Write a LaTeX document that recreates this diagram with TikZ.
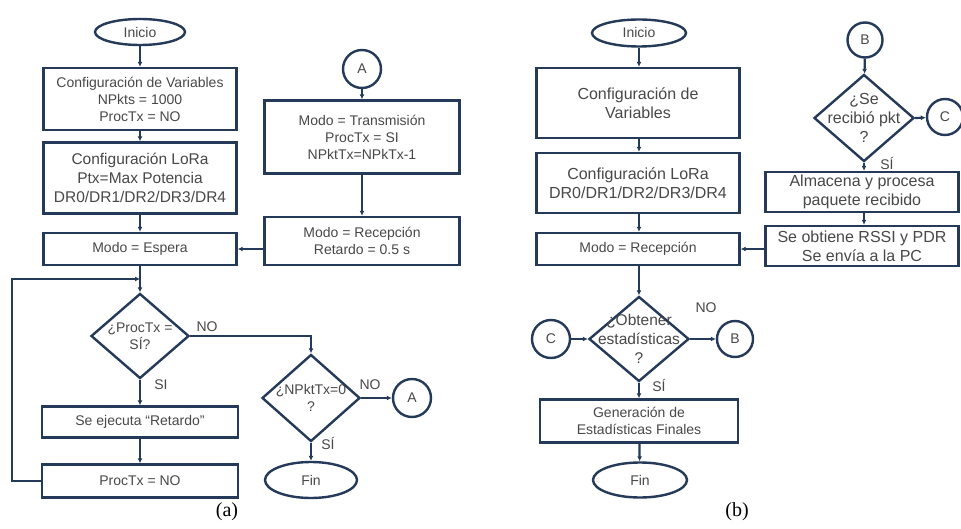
\documentclass[tikz,border=0pt]{standalone}
\usepackage{fontspec}
\setmainfont{Liberation Sans}
\newfontfamily\capfont{Liberation Serif}
\usetikzlibrary{shapes.geometric,arrows.meta}
\definecolor{lc}{RGB}{36,58,88}
\definecolor{tc}{RGB}{72,72,72}
\begin{document}
\begin{tikzpicture}[x=1pt,y=-1pt,
  fa/.style={font=\fontsize{14}{17}\selectfont},
  fl/.style={font=\fontsize{15.5}{19}\selectfont},
  fb/.style={font=\fontsize{16}{19}\selectfont},
  shp/.style={draw=lc, line width=2.4pt, inner sep=0pt, align=center, text=tc},
  boxx/.style={shp, rectangle},
  term/.style={shp, ellipse},
  conn/.style={shp, circle},
  deci/.style={shp, diamond},
  dtxt/.style={align=center, text=tc, inner sep=0pt},
  lbl/.style={text=tc, inner sep=0pt},
  arr/.style={draw=lc, line width=2.2pt, -{Latex[length=5pt,width=5pt]}},
  capl/.style={font=\capfont\fontsize{20}{22}\selectfont, text=black, inner sep=0pt}
]
\useasboundingbox (0,0) rectangle (961,529);
\fill[white] (0,0) rectangle (961,529);

% ---------------- (a) ----------------
\node[term, fa, minimum width=90pt, minimum height=26pt] (iniA) at (140,32) {Inicio};
\node[boxx, fa, minimum width=193pt, minimum height=62pt] (varA) at (140,99) {Configuración de Variables\\NPkts = 1000\\ProcTx = NO};
\node[boxx, fl, minimum width=193pt, minimum height=71pt] (loraA) at (140,178) {Configuración LoRa\\Ptx=Max Potencia\\DR0/DR1/DR2/DR3/DR4};
\node[boxx, fa, minimum width=193pt, minimum height=32pt] (espA) at (140,249) {Modo = Espera};
\node[deci, minimum width=98pt, minimum height=85pt,
  label={[dtxt, fa]center:{¿ProcTx =\\SÍ?}}] (decA) at (140,336) {};
\node[boxx, fa, minimum width=196pt, minimum height=31pt] (ejeA) at (140,422) {Se ejecuta “Retardo”};
\node[boxx, fa, minimum width=196pt, minimum height=33pt] (procA) at (140,481) {ProcTx = NO};
\coordinate (loopin) at (140,279);

\node[conn, fa, minimum size=38pt] (A1) at (362,69) {A};
\node[boxx, fa, minimum width=195pt, minimum height=73pt] (txA) at (362,137) {Modo = Transmisión\\ProcTx = SI\\NPktTx=NPkTx-1};
\node[boxx, fa, minimum width=195pt, minimum height=48pt] (rxA) at (362,241) {Modo = Recepción\\Retardo = 0.5 s};

\node[deci, minimum width=98pt, minimum height=87pt,
  label={[dtxt, fa]center:{¿NPktTx=0\\?}}] (decA2) at (311,398) {};
\node[conn, fa, minimum size=38pt] (A2) at (412,398) {A};
\node[term, fa, minimum width=92pt, minimum height=36pt] (finA) at (311,480) {Fin};

\node[lbl, fa] (noA1) at (207,327) {NO};
\node[lbl, fa] (siA1) at (161,385) {SI};
\node[lbl, fa] (noA2) at (370,385) {NO};
\node[lbl, fa] (siA2) at (328,443) {SÍ};
\node[capl] (capA) at (227,512) {(a)};

\draw[arr] (iniA) -- (varA);
\draw[arr] (varA) -- (loraA);
\draw[arr] (loraA) -- (espA);
\draw[arr] (espA) -- (decA);
\draw[arr] (decA) -- (ejeA);
\draw[arr] (ejeA) -- (procA);
\draw[arr] (procA.west) -- ++(-29,0) |- (loopin);
\draw[arr] (A1) -- (txA);
\draw[arr] (txA) -- (rxA);
\draw[arr] (rxA.west |- espA.east) -- (espA.east);
\draw[arr] (decA.east) -| (decA2.north);
\draw[arr] (decA2.east) -- (A2);
\draw[arr] (decA2) -- (finA);

% ---------------- (b) ----------------
\node[term, fa, minimum width=94pt, minimum height=27pt] (iniB) at (639,33) {Inicio};
\node[boxx, fb, minimum width=203pt, minimum height=70pt] (varB) at (638,103) {Configuración de\\Variables};
\node[boxx, fb, minimum width=203pt, minimum height=60pt] (loraB) at (638,183) {Configuración LoRa\\DR0/DR1/DR2/DR3/DR4};
\node[boxx, fa, minimum width=203pt, minimum height=32pt] (recB) at (638,249) {Modo = Recepción};
\node[deci, minimum width=100pt, minimum height=85pt,
  label={[dtxt, fl]center:{¿Obtener\\estadísticas\\?}}] (decB) at (639,339) {};
\node[conn, fa, minimum size=38pt] (cL) at (551,339) {C};
\node[conn, fa, minimum size=36pt] (bR) at (735,339) {B};
\node[boxx, fa, minimum width=198pt, minimum height=43pt] (genB) at (639,421) {Generación de\\Estadísticas Finales};
\node[term, fa, minimum width=94pt, minimum height=35pt] (finB) at (640,480) {Fin};

\node[conn, fa, minimum size=35pt] (B1) at (865,40) {B};
\node[deci, minimum width=100pt, minimum height=87pt,
  label={[dtxt, fb]center:{¿Se\\recibió pkt\\?}}] (decB2) at (864,118) {};
\node[conn, fa, minimum size=36pt] (cR) at (945,117) {C};
\node[boxx, fb, minimum width=193pt, minimum height=40pt] (almB) at (862,192) {Almacena y procesa\\paquete recibido};
\node[boxx, fb, minimum width=193pt, minimum height=40pt] (obtB) at (862,246) {Se obtiene RSSI y PDR\\Se envía a la PC};

\node[lbl, fa] (noB) at (706,308) {NO};
\node[lbl, fa] (siB) at (659,385) {SÍ};
\node[lbl, fa] (siB2) at (887,163) {SÍ};
\node[capl] (capB) at (737,512) {(b)};

\draw[arr] (iniB) -- (varB.north -| iniB);
\draw[arr] (varB.south -| iniB) -- (loraB.north -| iniB);
\draw[arr] (loraB.south -| iniB) -- (recB.north -| iniB);
\draw[arr] (recB.south -| iniB) -- (decB);
\draw[arr] (decB) -- (genB);
\draw[arr] (genB) -- (finB);
\draw[arr] (cL) -- (decB.west);
\draw[arr] (decB.east) -- (bR);
\draw[arr] (B1) -- (decB2);
\draw[arr] (decB2.east) -- (cR);
\draw[arr] (decB2.south) -- (almB.north -| decB2.south);
\draw[arr] (almB.south -| decB2.south) -- (obtB.north -| decB2.south);
\draw[arr] (obtB.west |- recB.east) -- (recB.east);
\end{tikzpicture}
\end{document}
